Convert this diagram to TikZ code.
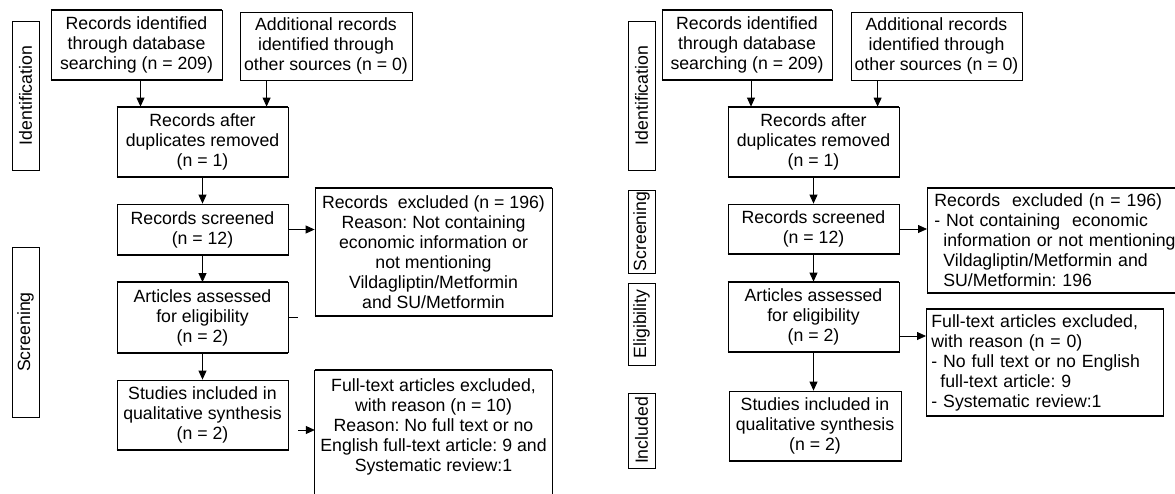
\documentclass[tikz,border=0pt]{standalone}
\usepackage{fontspec}
\setmainfont{Liberation Sans}
\usetikzlibrary{arrows.meta}
\frenchspacing

\tikzset{
  box/.style={draw, line width=0.8pt, align=center, inner sep=0pt, minimum width=171pt, minimum height=70pt},
  stage/.style={draw, line width=0.8pt, rotate=90, inner sep=0pt, minimum height=27pt},
  arr/.style={line width=0.8pt, -{Triangle[length=9pt,width=8pt]}},
  bar/.style={line width=2pt},
}

\begin{document}
\begin{tikzpicture}[x=1pt,y=-1pt,font=\fontsize{17.7}{20}\selectfont\frenchspacing]
    \useasboundingbox (0,0) rectangle (1175,493);
    % left chart: stages
    \node[stage, minimum width=149pt] (idL) at (25.5,95.5) {Identification};
    \node[stage, minimum width=170pt] (scL) at (25.5,332) {Screening};
    % left chart: main column
    \node[box] (A) at (136.5,45) {Records identified\\through database\\searching (n = 209)};
    \node[box, minimum width=172pt, minimum height=68pt] (B) at (326,46) {Additional records\\identified through\\other sources (n = 0)};
    \node[box] (C) at (202.5,142) {Records after\\duplicates removed\\(n = 1)};
    \node[box, minimum height=51pt] (D) at (202.5,229.5) {Records screened\\(n = 12)};
    \node[box] (E) at (202.5,317.5) {Articles assessed\\for eligibility\\(n = 2)};
    \node[box] (F) at (202.5,415) {Studies included in\\qualitative synthesis\\(n = 2)};
    % left chart: exclusions
    \node[box, minimum width=237pt, minimum height=128pt] (X1) at (433.5,252) {Records\ \ excluded (n = 196)\\Reason: Not containing\\economic information or\\not mentioning\\Vildagliptin/Metformin\\and SU/Metformin};
    \node[align=center, anchor=north, inner xsep=3pt, inner ysep=8pt, minimum width=237pt] (X2) at (433.5,370) {Full-text articles excluded,\\with reason (n = 10)\\Reason: No full text or no\\English full-text article: 9 and\\Systematic review:1};
    \coordinate (bot) at (0,496);
    \draw[line width=0.8pt] (X2.north west |- bot) -- (X2.north west) -- (X2.north east) -- (X2.north east |- bot);
    % left chart: arrows
    \coordinate (a1) at ([xshift=4pt]A.south);
    \coordinate (b1) at ([xshift=27pt]B.south west);
    \draw[arr] (a1) -- (a1 |- C.north);
    \draw[arr] (b1) -- (b1 |- C.north);
    \draw[arr] (C) -- (D);
    \draw[arr] (D) -- (E);
    \draw[arr] (E) -- (F);
    \draw[arr] (D.east) -- (D.east -| X1.west);
    \coordinate (e0) at ([xshift=10pt]E.east);
    \draw[line width=0.8pt] (E.east) -- (e0);
    \coordinate (f1) at ([xshift=10pt,yshift=-15pt]F.east);
    \draw[arr] (f1) -- (f1 -| X2.west);

    % right chart: stages
    \node[stage, minimum width=149pt] (idR) at (641.5,95.5) {Identification};
    \node[stage, minimum width=83pt] (scR) at (641.5,231.5) {Screening};
    \node[stage, minimum width=82pt] (elR) at (641.5,324) {Eligibility};
    \node[stage, minimum width=75pt] (inR) at (641.5,430.5) {Included};
    % right chart: main column
    \node[box, minimum width=170pt] (A2) at (747,45) {Records identified\\through database\\searching (n = 209)};
    \node[box, minimum height=68pt] (B2) at (936.5,46) {Additional records\\identified through\\other sources (n = 0)};
    \node[box] (C2) at (813.5,142) {Records after\\duplicates removed\\(n = 1)};
    \node[box, minimum height=50pt] (D2) at (813.5,229) {Records screened\\(n = 12)};
    \node[box] (E2) at (813.5,317) {Articles assessed\\for eligibility\\(n = 2)};
    \node[box, minimum width=172pt] (F2) at (815,426) {Studies included in\\qualitative synthesis\\(n = 2)};
    % right chart: exclusions
    \node[draw, line width=0.8pt, align=left, anchor=west, text width=246pt, inner xsep=7pt, inner ysep=0pt, minimum height=105pt] (X3) at (927,240.5) {Records\ \ excluded (n = 196)\\- Not containing\ \ economic\\\hspace*{9pt}information or not mentioning\\\hspace*{9pt}Vildagliptin/Metformin and\\\hspace*{9pt}SU/Metformin: 196};
    \node[draw, line width=0.8pt, align=left, anchor=west, text width=227pt, inner xsep=5pt, inner ysep=0pt, minimum height=107pt] (X4) at (926,362.5) {Full-text articles excluded,\\with reason (n = 0)\\- No full text or no English\\\hspace*{9pt}full-text article: 9\\- Systematic review:1};
    % right chart: arrows
    \coordinate (a2) at ([xshift=4pt]A2.south);
    \coordinate (b2) at ([xshift=27pt]B2.south west);
    \draw[arr] (a2) -- (a2 |- C2.north);
    \draw[arr] (b2) -- (b2 |- C2.north);
    \draw[arr] (C2) -- (D2);
    \draw[arr] (D2) -- (E2);
    \draw[arr] (E2.south) -- (E2.south |- F2.north);
    \draw[arr] (D2.east) -- (D2.east -| X3.west);
    \coordinate (e1) at ([yshift=-19pt]E2.east);
    \draw[arr] (e1) -- (e1 -| X4.west);

    % heavy top and bottom edges
    \foreach \n in {A,C,E,X1,X2,A2,C2,E2,X3,X4}
        \draw[bar] (\n.north west) -- (\n.north east);
    \foreach \n in {A,C,D,E,F,X1,A2,C2,D2,E2,F2,X3,X4}
        \draw[bar] (\n.south west) -- (\n.south east);
\end{tikzpicture}
\end{document}
